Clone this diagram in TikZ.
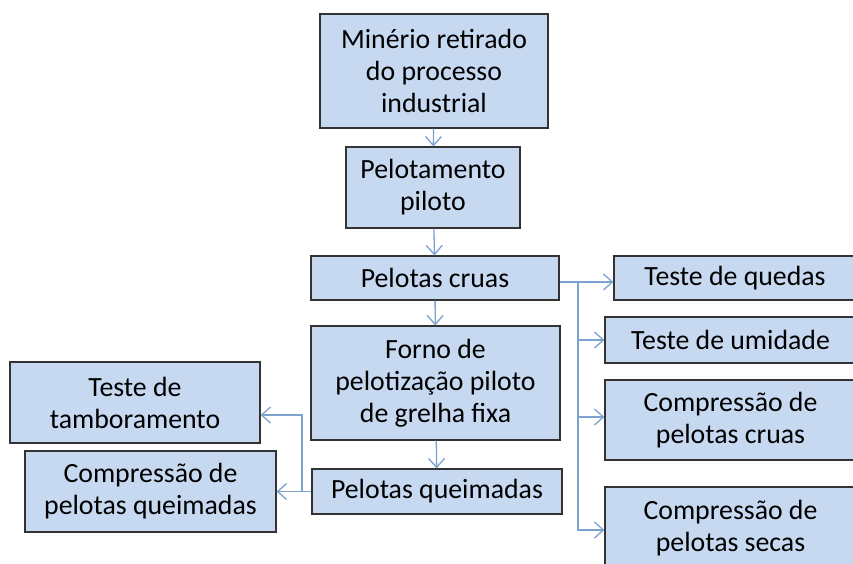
\documentclass[tikz,border=0pt]{standalone}
\usepackage{fontspec}
\setmainfont{Carlito}
\usetikzlibrary{positioning,arrows.meta}
\definecolor{caixaazul}{HTML}{C6D9F1}
\definecolor{fioazul}{HTML}{7DA2CF}

\begin{document}
\begin{tikzpicture}[x=1pt,y=-1pt,
  caixa/.style={draw=black!80,fill=caixaazul,line width=1.2pt,align=center,inner sep=0pt,font=\fontsize{27.8}{32}\selectfont},
  fio/.style={draw=fioazul,line width=1.3pt},
  seta/.style={fio,-{Straight Barb[length=9pt,width=16pt,line width=1.3pt]}}]
  \fill[white] (0,0) rectangle (853,563);
  \useasboundingbox (0,0) rectangle (853,563);

  % coluna central
  \node[caixa,minimum width=228pt,minimum height=114pt] (min) at (434,71) {Minério retirado\\do processo\\industrial};
  \node[caixa,minimum width=174pt,minimum height=81pt] (pel) at (433,187.5) {Pelotamento\\piloto};
  \node[caixa,minimum width=248pt,minimum height=44pt] (cru) at (435,278) {Pelotas cruas};
  \node[caixa,minimum width=249pt,minimum height=114pt] (forno) at (435.5,383) {Forno de\\pelotização piloto\\de grelha fixa};
  \node[caixa,minimum width=250pt,minimum height=45pt] (quei) at (437,491.5) {Pelotas queimadas};

  % testes das pelotas cruas
  \node[caixa,minimum width=242pt,minimum height=44pt] (qued) at (735,278) {Teste de quedas};
  \node[caixa,minimum width=251pt,minimum height=46pt] (umid) at (730.5,340) {Teste de umidade};
  \node[caixa,minimum width=251pt,minimum height=80pt] (ccru) at (730.5,420) {Compressão de\\pelotas cruas};
  \node[caixa,minimum width=251pt,minimum height=83pt] (csec) at (730.5,528.5) {Compressão de\\pelotas secas};

  % testes das pelotas queimadas
  \node[caixa,minimum width=250pt,minimum height=81pt] (tamb) at (135,402.5) {Teste de\\tamboramento};
  \node[caixa,minimum width=251pt,minimum height=81pt] (cque) at (150.5,491.5) {Compressão de\\pelotas queimadas};

  \draw[seta] (min) -- (pel);
  \draw[seta] (pel) -- (cru);
  \draw[seta] (cru) -- (forno);
  \draw[seta] (forno) -- (quei);

  \coordinate (jr) at (578,282);
  \draw[fio] ([yshift=-4pt]cru.east) -- (jr);
  \draw[fio] (jr) -- (578,530);
  \draw[seta] (jr) -- (jr -| qued.west);
  \draw[seta] (jr) |- (umid.west);
  \draw[seta] (jr) |- ([yshift=3pt]ccru.west);
  \draw[seta] (jr) |- ([yshift=-1.5pt]csec.west);

  \coordinate (jl) at (302,491.5);
  \draw[fio] (quei.west) -- (jl);
  \draw[seta] (jl) -- (cque.east);
  \draw[seta] (jl) |- ([yshift=-12.5pt]tamb.east);
\end{tikzpicture}
\end{document}
